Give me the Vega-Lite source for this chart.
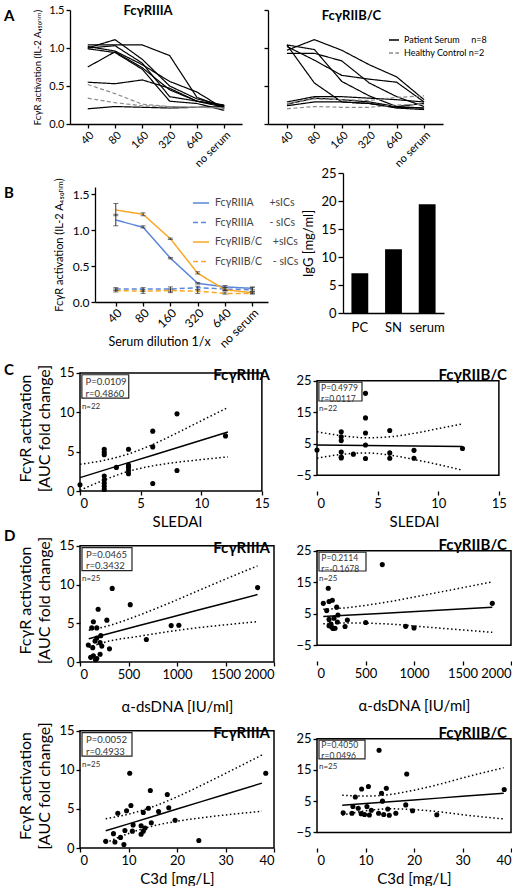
{
 "$schema": "https://vega.github.io/schema/vega-lite/v6.json",
 "autosize": {"type": "pad"},
 "padding": {"left": 4, "top": 4, "right": 0, "bottom": 0},
 "background": "white",
 "bounds": "flush",
 "columns": 3,
 "spacing": {"row": 20, "column": 0},
 "align": "each",
 "center": false,
 "resolve": {"scale": {"color": "independent", "strokeDash": "independent"}, "legend": {"color": "independent", "strokeDash": "independent"}},
 "config": {
  "font": "Lato, DejaVu Sans, sans-serif",
  "view": {"stroke": null},
  "axis": {"grid": false, "domainColor": "black", "tickColor": "black", "labelColor": "black", "titleColor": "black", "domainWidth": 1.3, "tickWidth": 1.3, "titleFontWeight": "normal"},
  "title": {"color": "black"},
  "legend": {"labelColor": "black"}
 },
 "datasets": {
  "aL": [
   {"id": "p1", "g": "Patient Serum\u00a0\u00a0\u00a0\u00a0\u00a0n=8", "40": 1.04, "80": 1.04, "160": 1.04, "320": 0.90, "640": 0.35, "no serum": 0.22},
   {"id": "p2", "g": "Patient Serum\u00a0\u00a0\u00a0\u00a0\u00a0n=8", "40": 1.00, "80": 1.11, "160": 0.85, "320": 0.50, "640": 0.33, "no serum": 0.24},
   {"id": "p3", "g": "Patient Serum\u00a0\u00a0\u00a0\u00a0\u00a0n=8", "40": 1.02, "80": 0.96, "160": 0.78, "320": 0.56, "640": 0.42, "no serum": 0.20},
   {"id": "p4", "g": "Patient Serum\u00a0\u00a0\u00a0\u00a0\u00a0n=8", "40": 0.75, "80": 0.95, "160": 0.74, "320": 0.45, "640": 0.30, "no serum": 0.25},
   {"id": "p5", "g": "Patient Serum\u00a0\u00a0\u00a0\u00a0\u00a0n=8", "40": 1.00, "80": 1.03, "160": 0.80, "320": 0.36, "640": 0.30, "no serum": 0.22},
   {"id": "p6", "g": "Patient Serum\u00a0\u00a0\u00a0\u00a0\u00a0n=8", "40": 0.99, "80": 0.94, "160": 0.72, "320": 0.30, "640": 0.27, "no serum": 0.18},
   {"id": "p7", "g": "Patient Serum\u00a0\u00a0\u00a0\u00a0\u00a0n=8", "40": 0.55, "80": 0.53, "160": 0.58, "320": 0.47, "640": 0.30, "no serum": 0.24},
   {"id": "p8", "g": "Patient Serum\u00a0\u00a0\u00a0\u00a0\u00a0n=8", "40": 0.20, "80": 0.23, "160": 0.22, "320": 0.21, "640": 0.22, "no serum": 0.23},
   {"id": "c1", "g": "Healthy Control n=2", "40": 0.52, "80": 0.40, "160": 0.26, "320": 0.23, "640": 0.22, "no serum": 0.21},
   {"id": "c2", "g": "Healthy Control n=2", "40": 0.34, "80": 0.28, "160": 0.24, "320": 0.23, "640": 0.22, "no serum": 0.21}
  ],
  "aR": [
   {"id": "p1", "g": "Patient Serum\u00a0\u00a0\u00a0\u00a0\u00a0n=8", "40": 1.04, "80": 0.98, "160": 0.56, "320": 0.37, "640": 0.23, "no serum": 0.21},
   {"id": "p2", "g": "Patient Serum\u00a0\u00a0\u00a0\u00a0\u00a0n=8", "40": 0.97, "80": 1.11, "160": 0.97, "320": 0.78, "640": 0.62, "no serum": 0.32},
   {"id": "p3", "g": "Patient Serum\u00a0\u00a0\u00a0\u00a0\u00a0n=8", "40": 1.02, "80": 0.84, "160": 0.64, "320": 0.59, "640": 0.55, "no serum": 0.29},
   {"id": "p4", "g": "Patient Serum\u00a0\u00a0\u00a0\u00a0\u00a0n=8", "40": 0.93, "80": 0.93, "160": 0.83, "320": 0.54, "640": 0.36, "no serum": 0.23},
   {"id": "p5", "g": "Patient Serum\u00a0\u00a0\u00a0\u00a0\u00a0n=8", "40": 1.04, "80": 0.54, "160": 0.29, "320": 0.27, "640": 0.22, "no serum": 0.21},
   {"id": "p6", "g": "Patient Serum\u00a0\u00a0\u00a0\u00a0\u00a0n=8", "40": 0.29, "80": 0.36, "160": 0.36, "320": 0.34, "640": 0.32, "no serum": 0.29},
   {"id": "p7", "g": "Patient Serum\u00a0\u00a0\u00a0\u00a0\u00a0n=8", "40": 0.26, "80": 0.34, "160": 0.32, "320": 0.29, "640": 0.23, "no serum": 0.27},
   {"id": "p8", "g": "Patient Serum\u00a0\u00a0\u00a0\u00a0\u00a0n=8", "40": 0.24, "80": 0.29, "160": 0.29, "320": 0.27, "640": 0.21, "no serum": 0.19},
   {"id": "c1", "g": "Healthy Control n=2", "40": 0.27, "80": 0.33, "160": 0.32, "320": 0.31, "640": 0.35, "no serum": 0.37},
   {"id": "c2", "g": "Healthy Control n=2", "40": 0.20, "80": 0.23, "160": 0.22, "320": 0.22, "640": 0.25, "no serum": 0.26}
  ],
  "b": [
   {"s": "FcγRIIIA\u00a0\u00a0\u00a0\u00a0\u00a0\u00a0+sICs", "d": "40", "v": 1.14, "lo": 1.06, "hi": 1.22},
   {"s": "FcγRIIIA\u00a0\u00a0\u00a0\u00a0\u00a0\u00a0+sICs", "d": "80", "v": 1.04, "lo": 1.03, "hi": 1.06},
   {"s": "FcγRIIIA\u00a0\u00a0\u00a0\u00a0\u00a0\u00a0+sICs", "d": "160", "v": 0.61, "lo": 0.60, "hi": 0.62},
   {"s": "FcγRIIIA\u00a0\u00a0\u00a0\u00a0\u00a0\u00a0+sICs", "d": "320", "v": 0.26, "lo": 0.25, "hi": 0.27},
   {"s": "FcγRIIIA\u00a0\u00a0\u00a0\u00a0\u00a0\u00a0+sICs", "d": "640", "v": 0.21, "lo": 0.20, "hi": 0.23},
   {"s": "FcγRIIIA\u00a0\u00a0\u00a0\u00a0\u00a0\u00a0+sICs", "d": "no serum", "v": 0.19, "lo": 0.17, "hi": 0.21},
   {"s": "FcγRIIIA\u00a0\u00a0\u00a0\u00a0\u00a0\u00a0-\u00a0sICs", "d": "40", "v": 0.18, "lo": 0.16, "hi": 0.20},
   {"s": "FcγRIIIA\u00a0\u00a0\u00a0\u00a0\u00a0\u00a0-\u00a0sICs", "d": "80", "v": 0.18, "lo": 0.15, "hi": 0.20},
   {"s": "FcγRIIIA\u00a0\u00a0\u00a0\u00a0\u00a0\u00a0-\u00a0sICs", "d": "160", "v": 0.18, "lo": 0.15, "hi": 0.21},
   {"s": "FcγRIIIA\u00a0\u00a0\u00a0\u00a0\u00a0\u00a0-\u00a0sICs", "d": "320", "v": 0.20, "lo": 0.17, "hi": 0.22},
   {"s": "FcγRIIIA\u00a0\u00a0\u00a0\u00a0\u00a0\u00a0-\u00a0sICs", "d": "640", "v": 0.18, "lo": 0.16, "hi": 0.20},
   {"s": "FcγRIIIA\u00a0\u00a0\u00a0\u00a0\u00a0\u00a0-\u00a0sICs", "d": "no serum", "v": 0.17, "lo": 0.15, "hi": 0.20},
   {"s": "FcγRIIB/C\u00a0\u00a0\u00a0\u00a0+sICs", "d": "40", "v": 1.28, "lo": 1.20, "hi": 1.37},
   {"s": "FcγRIIB/C\u00a0\u00a0\u00a0\u00a0+sICs", "d": "80", "v": 1.22, "lo": 1.20, "hi": 1.24},
   {"s": "FcγRIIB/C\u00a0\u00a0\u00a0\u00a0+sICs", "d": "160", "v": 0.88, "lo": 0.87, "hi": 0.89},
   {"s": "FcγRIIB/C\u00a0\u00a0\u00a0\u00a0+sICs", "d": "320", "v": 0.40, "lo": 0.39, "hi": 0.42},
   {"s": "FcγRIIB/C\u00a0\u00a0\u00a0\u00a0+sICs", "d": "640", "v": 0.17, "lo": 0.16, "hi": 0.18},
   {"s": "FcγRIIB/C\u00a0\u00a0\u00a0\u00a0+sICs", "d": "no serum", "v": 0.13, "lo": 0.12, "hi": 0.14},
   {"s": "FcγRIIB/C\u00a0\u00a0\u00a0\u00a0-\u00a0sICs", "d": "40", "v": 0.16, "lo": 0.14, "hi": 0.18},
   {"s": "FcγRIIB/C\u00a0\u00a0\u00a0\u00a0-\u00a0sICs", "d": "80", "v": 0.15, "lo": 0.12, "hi": 0.17},
   {"s": "FcγRIIB/C\u00a0\u00a0\u00a0\u00a0-\u00a0sICs", "d": "160", "v": 0.16, "lo": 0.13, "hi": 0.18},
   {"s": "FcγRIIB/C\u00a0\u00a0\u00a0\u00a0-\u00a0sICs", "d": "320", "v": 0.15, "lo": 0.12, "hi": 0.17},
   {"s": "FcγRIIB/C\u00a0\u00a0\u00a0\u00a0-\u00a0sICs", "d": "640", "v": 0.12, "lo": 0.11, "hi": 0.14},
   {"s": "FcγRIIB/C\u00a0\u00a0\u00a0\u00a0-\u00a0sICs", "d": "no serum", "v": 0.12, "lo": 0.11, "hi": 0.14}
  ],
  "igg": [{"s": "PC", "v": 7.1}, {"s": "SN", "v": 11.4}, {"s": "serum", "v": 19.4}],
  "cLp": [{"x":0,"v":0.8},{"x":2,"v":5.3},{"x":2,"v":4.9},{"x":2,"v":4.6},{"x":2,"v":1.9},{"x":2,"v":1.4},{"x":2,"v":1.0},{"x":2,"v":0.6},{"x":2,"v":0.2},{"x":3,"v":3.0},{"x":4,"v":5.3},{"x":4,"v":3.3},{"x":4,"v":3.0},{"x":4,"v":2.6},{"x":4,"v":2.2},{"x":6,"v":7.6},{"x":6,"v":5.6},{"x":6,"v":0.95},{"x":8,"v":9.8},{"x":8,"v":2.6},{"x":12,"v":7.0}],
  "cLf": [{"x":0,"fit":1.7,"lo":0.1,"hi":3.4},{"x":2,"fit":2.65,"lo":1.4,"hi":3.9},{"x":4,"fit":3.6,"lo":2.5,"hi":4.71},{"x":6,"fit":4.55,"lo":3.19,"hi":5.91},{"x":8,"fit":5.5,"lo":3.64,"hi":7.37},{"x":10,"fit":6.45,"lo":3.99,"hi":8.92},{"x":12.2,"fit":7.5,"lo":4.33,"hi":10.6}],
  "cRp": [{"x":0,"v":3.0},{"x":2,"v":8.8},{"x":2,"v":7.2},{"x":2,"v":6.0},{"x":2,"v":2.4},{"x":2,"v":0.8},{"x":2,"v":0.5},{"x":3,"v":1.7},{"x":4,"v":21.0},{"x":4,"v":13.2},{"x":4,"v":8.4},{"x":4,"v":4.6},{"x":4,"v":0.3},{"x":6,"v":9.2},{"x":6,"v":2.1},{"x":6,"v":0.4},{"x":8,"v":2.9},{"x":8,"v":0.4},{"x":12,"v":3.5}],
  "cRf": [{"x":0,"fit":4.6,"lo":0.4,"hi":8.8},{"x":2,"fit":4.52,"lo":1.6,"hi":7.6},{"x":4,"fit":4.43,"lo":2.1,"hi":6.9},{"x":6,"fit":4.35,"lo":1.4,"hi":7.2},{"x":8,"fit":4.27,"lo":0.0,"hi":8.3},{"x":10,"fit":4.18,"lo":-1.6,"hi":9.8},{"x":12,"fit":4.1,"lo":-3.4,"hi":11.3}],
  "d1Lp": [{"x":138,"v":5.2},{"x":121,"v":4.4},{"x":173,"v":4.4},{"x":187,"v":6.8},{"x":277,"v":5.4},{"x":332,"v":9.5},{"x":518,"v":7.4},{"x":214,"v":3.4},{"x":173,"v":3.1},{"x":155,"v":2.7},{"x":207,"v":2.5},{"x":86,"v":2.2},{"x":131,"v":1.85},{"x":225,"v":2.05},{"x":304,"v":1.7},{"x":138,"v":0.8},{"x":207,"v":1.0},{"x":173,"v":0.45},{"x":684,"v":2.9},{"x":940,"v":4.7},{"x":1019,"v":4.75},{"x":1831,"v":9.6},{"x":160,"v":0.3},{"x":110,"v":0.6}],
  "d1Lf": [{"x":90,"fit":3.0,"lo":1.9,"hi":4.1},{"x":300,"fit":3.69,"lo":2.7,"hi":4.7},{"x":600,"fit":4.67,"lo":3.3,"hi":6.0},{"x":900,"fit":5.65,"lo":3.9,"hi":7.5},{"x":1200,"fit":6.64,"lo":4.4,"hi":9.1},{"x":1500,"fit":7.62,"lo":4.8,"hi":10.7},{"x":1830,"fit":8.7,"lo":5.2,"hi":12.4}],
  "d1Rp": [{"x":65,"v":8.3},{"x":116,"v":13.1},{"x":124,"v":8.9},{"x":158,"v":9.3},{"x":100,"v":6.0},{"x":203,"v":7.1},{"x":216,"v":4.6},{"x":124,"v":3.2},{"x":175,"v":3.6},{"x":313,"v":3.0},{"x":210,"v":2.4},{"x":124,"v":1.2},{"x":151,"v":0.8},{"x":186,"v":0.4},{"x":289,"v":0.95},{"x":502,"v":2.2},{"x":673,"v":20.6},{"x":914,"v":1.0},{"x":1000,"v":0.5},{"x":1807,"v":8.3},{"x":144,"v":1.7},{"x":165,"v":0.3}],
  "d1Rf": [{"x":65,"fit":4.1,"lo":1.8,"hi":6.4},{"x":300,"fit":4.5,"lo":2.1,"hi":6.9},{"x":700,"fit":5.19,"lo":1.8,"hi":8.6},{"x":1200,"fit":6.05,"lo":0.6,"hi":11.5},{"x":1807,"fit":7.1,"lo":-0.9,"hi":15.1}],
  "d2Lp": [{"x":5.3,"v":0.85},{"x":7.2,"v":0.76},{"x":6.9,"v":1.84},{"x":8.35,"v":1.36},{"x":9.05,"v":0.44},{"x":7.8,"v":4.44},{"x":9.6,"v":4.76},{"x":10.5,"v":5.44},{"x":10.25,"v":9.56},{"x":9.26,"v":2.24},{"x":10.8,"v":2.16},{"x":10.95,"v":2.96},{"x":12.6,"v":2.84},{"x":12.6,"v":1.76},{"x":13.05,"v":2.16},{"x":13.4,"v":2.56},{"x":13.05,"v":4.56},{"x":14.1,"v":5.08},{"x":14.5,"v":7.36},{"x":14.7,"v":3.24},{"x":16.2,"v":4.68},{"x":18.0,"v":6.84},{"x":18.3,"v":5.16},{"x":19.6,"v":3.56},{"x":24.5,"v":0.96},{"x":38.3,"v":9.56}],
  "d2Lf": [{"x":5.3,"fit":2.2,"lo":0.66,"hi":3.74},{"x":10,"fit":3.09,"lo":1.86,"hi":4.33},{"x":15,"fit":4.04,"lo":2.81,"hi":5.28},{"x":20,"fit":4.99,"lo":3.42,"hi":6.55},{"x":25,"fit":5.94,"lo":3.87,"hi":8.01},{"x":30,"fit":6.89,"lo":4.23,"hi":9.55},{"x":37.5,"fit":8.3,"lo":4.7,"hi":11.9}],
  "d2Rp": [{"x":5.4,"v":1.3},{"x":7.2,"v":1.1},{"x":7.4,"v":3.3},{"x":7.9,"v":6.3},{"x":8.5,"v":2.7},{"x":9.2,"v":8.9},{"x":9.1,"v":1.0},{"x":9.8,"v":0.7},{"x":10.3,"v":3.3},{"x":10.6,"v":9.7},{"x":10.8,"v":0.56},{"x":11.2,"v":2.1},{"x":12.7,"v":1.1},{"x":12.8,"v":21.3},{"x":13.3,"v":7.5},{"x":13.5,"v":5.0},{"x":13.75,"v":0.7},{"x":14.3,"v":9.1},{"x":14.6,"v":2.5},{"x":14.9,"v":0.5},{"x":16.25,"v":1.1},{"x":18.3,"v":3.8},{"x":18.5,"v":13.7},{"x":19.7,"v":1.9},{"x":24.7,"v":0.64},{"x":38.6,"v":8.7}],
  "d2Rf": [{"x":5.2,"fit":3.7,"lo":0.5,"hi":6.9},{"x":10,"fit":4.25,"lo":1.9,"hi":6.6},{"x":15,"fit":4.82,"lo":2.54,"hi":7.1},{"x":20,"fit":5.39,"lo":2.29,"hi":8.5},{"x":25,"fit":5.96,"lo":1.62,"hi":10.3},{"x":30,"fit":6.53,"lo":0.66,"hi":12.4},{"x":38.5,"fit":7.5,"lo":-0.7,"hi":15.7}]
 },
 "concat": [
  {"width": 66, "height": 1, "data": {"values": []}, "mark": "point",
   "title": {"text": "A", "anchor": "start", "frame": "group", "offset": -26, "fontSize": 15, "fontWeight": "bold", "baseline": "alphabetic"}},
  {
   "width": 198, "height": 114,
   "title": {"text": "FcγRIIIA", "anchor": "middle", "frame": "group", "offset": -24, "dx": -21, "fontSize": 13, "fontWeight": "bold", "baseline": "alphabetic"},
   "data": {"name": "aL"},
   "transform": [{"fold": ["40", "80", "160", "320", "640", "no serum"], "as": ["d", "v"]}],
   "mark": {"type": "line", "strokeWidth": 1.2},
   "encoding": {
    "x": {"field": "d", "type": "ordinal", "sort": ["40", "80", "160", "320", "640", "no serum"], "scale": {"type": "point", "padding": 0.65, "range": [0, 172]}, "axis": {"title": null, "labelAngle": -45, "labelFontSize": 11, "tickSize": 4, "labelPadding": 1}},
    "y": {"field": "v", "type": "quantitative", "scale": {"domain": [0, 1.5]}, "axis": {"values": [0, 0.5, 1, 1.5], "format": ".1f", "title": "FcγR activation (IL-2 A₄₅₀ₙₘ)", "titleFontSize": 9.5, "labelFontSize": 11, "tickSize": 4, "titlePadding": 6}},
    "detail": {"field": "id", "type": "nominal"},
    "color": {"field": "g", "type": "nominal", "scale": {"domain": ["Patient Serum\u00a0\u00a0\u00a0\u00a0\u00a0n=8", "Healthy Control n=2"], "range": ["black", "#8a8a8a"]}, "legend": null},
    "strokeDash": {"field": "g", "type": "nominal", "scale": {"domain": ["Patient Serum\u00a0\u00a0\u00a0\u00a0\u00a0n=8", "Healthy Control n=2"], "range": [[1, 0], [4, 2.5]]}, "legend": null}
   }
  },
  {
   "width": 175, "height": 114,
   "title": {"text": "FcγRIIB/C", "anchor": "middle", "frame": "group", "offset": -24, "dx": -4, "fontSize": 13, "fontWeight": "bold", "baseline": "alphabetic"},
   "data": {"name": "aR"},
   "transform": [{"fold": ["40", "80", "160", "320", "640", "no serum"], "as": ["d", "v"]}],
   "mark": {"type": "line", "strokeWidth": 1.2},
   "encoding": {
    "x": {"field": "d", "type": "ordinal", "sort": ["40", "80", "160", "320", "640", "no serum"], "scale": {"type": "point", "padding": 0.69}, "axis": {"title": null, "labelAngle": -45, "labelFontSize": 11, "tickSize": 4, "labelPadding": 1}},
    "y": {"field": "v", "type": "quantitative", "scale": {"domain": [0, 1.5]}, "axis": {"values": [0, 0.5, 1, 1.5], "labels": false, "title": null, "tickSize": 4}},
    "detail": {"field": "id", "type": "nominal"},
    "color": {"field": "g", "type": "nominal", "scale": {"domain": ["Patient Serum\u00a0\u00a0\u00a0\u00a0\u00a0n=8", "Healthy Control n=2"], "range": ["black", "#8a8a8a"]}, "legend": {"orient": "none", "legendX": 120, "legendY": 24, "title": null, "symbolType": "stroke", "symbolSize": 100, "symbolStrokeWidth": 1.5, "labelFontSize": 9, "rowPadding": 2, "labelOffset": 4}},
    "strokeDash": {"field": "g", "type": "nominal", "scale": {"domain": ["Patient Serum\u00a0\u00a0\u00a0\u00a0\u00a0n=8", "Healthy Control n=2"], "range": [[1, 0], [4, 2.5]]}, "legend": {"orient": "none", "legendX": 120, "legendY": 24, "title": null, "symbolType": "stroke", "symbolSize": 100, "symbolStrokeWidth": 1.5, "labelFontSize": 9, "rowPadding": 2, "labelOffset": 4}}
   }
  },

  {"width": 66, "height": 1, "data": {"values": []}, "mark": "point",
   "title": {"text": "B", "anchor": "start", "frame": "group", "offset": -69, "fontSize": 15, "fontWeight": "bold", "baseline": "alphabetic"}},
  {
   "width": 198, "height": 158,
   "layer": [
    {
     "data": {"name": "b"},
     "mark": {"type": "line", "strokeWidth": 1.5},
     "encoding": {
      "x": {"field": "d", "type": "ordinal", "sort": ["40", "80", "160", "320", "640", "no serum"], "scale": {"type": "point", "padding": 0.667, "align": 0.57, "range": [25, 198]}, "axis": {"title": "Serum dilution 1/x", "titleFontSize": 12.5, "titleX": 89, "titleY": 43, "titleBaseline": "alphabetic", "labelAngle": -45, "labelFontSize": 12, "tickSize": 4, "labelPadding": 1}},
      "y": {"field": "v", "type": "quantitative", "scale": {"domain": [0, 1.5], "range": [158, 43]}, "axis": {"values": [0, 0.5, 1, 1.5], "format": ".1f", "offset": -25, "title": "FcγR activation (IL-2 A₄₅₀ₙₘ)", "titleFontSize": 11, "labelFontSize": 12, "tickSize": 4, "titlePadding": 8}},
      "color": {"field": "s", "type": "nominal", "scale": {"domain": ["FcγRIIIA\u00a0\u00a0\u00a0\u00a0\u00a0\u00a0+sICs", "FcγRIIIA\u00a0\u00a0\u00a0\u00a0\u00a0\u00a0-\u00a0sICs", "FcγRIIB/C\u00a0\u00a0\u00a0\u00a0+sICs", "FcγRIIB/C\u00a0\u00a0\u00a0\u00a0-\u00a0sICs"], "range": ["#5b86d9", "#5b86d9", "#f9a825", "#f9a825"]}, "legend": {"orient": "none", "legendX": 122, "legendY": 50, "title": null, "symbolType": "stroke", "symbolSize": 256, "symbolStrokeWidth": 1.5, "labelFontSize": 10.5, "labelColor": "#444", "rowPadding": 4.5, "labelOffset": 5}},
      "strokeDash": {"field": "s", "type": "nominal", "scale": {"domain": ["FcγRIIIA\u00a0\u00a0\u00a0\u00a0\u00a0\u00a0+sICs", "FcγRIIIA\u00a0\u00a0\u00a0\u00a0\u00a0\u00a0-\u00a0sICs", "FcγRIIB/C\u00a0\u00a0\u00a0\u00a0+sICs", "FcγRIIB/C\u00a0\u00a0\u00a0\u00a0-\u00a0sICs"], "range": [[1, 0], [5, 3], [1, 0], [5, 3]]}, "legend": {"orient": "none", "legendX": 122, "legendY": 50, "title": null, "symbolType": "stroke", "symbolSize": 256, "symbolStrokeWidth": 1.5, "labelFontSize": 10.5, "labelColor": "#444", "rowPadding": 4.5, "labelOffset": 5}}
     }
    },
    {
     "data": {"name": "b"},
     "mark": {"type": "errorbar", "ticks": {"size": 5, "color": "#333"}, "color": "#333", "thickness": 1},
     "encoding": {
      "x": {"field": "d", "type": "ordinal", "sort": ["40", "80", "160", "320", "640", "no serum"], "title": "Serum dilution 1/x"},
      "y": {"field": "lo", "type": "quantitative", "title": "FcγR activation (IL-2 A₄₅₀ₙₘ)"},
      "y2": {"field": "hi"}
     }
    }
   ]
  },
  {
   "width": 176, "height": 169,
   "data": {"name": "igg"},
   "mark": {"type": "bar", "color": "black"},
   "encoding": {
    "x": {"field": "s", "type": "nominal", "sort": ["PC", "SN", "serum"], "scale": {"paddingInner": 0.5, "paddingOuter": 0.25, "range": [75, 176]}, "axis": {"title": null, "labelAngle": 0, "labelFontSize": 13, "ticks": false, "labelPadding": 8}},
    "y": {"field": "v", "type": "quantitative", "scale": {"domain": [0, 25], "range": [169, 29]}, "axis": {"values": [0, 5, 10, 15, 20, 25], "offset": -75, "title": "IgG [mg/ml]", "titleFontSize": 13, "labelFontSize": 13, "tickSize": 5, "titlePadding": 5}}
   }
  },

  {"width": 66, "height": 1, "data": {"values": []}, "mark": "point",
   "title": {"text": "C", "anchor": "start", "frame": "group", "offset": -57, "fontSize": 15, "fontWeight": "bold", "baseline": "alphabetic"}},
  {
   "width": 198, "height": 158,
   "title": {"text": "FcγRIIIA", "anchor": "end", "frame": "group", "offset": -62, "dx": 2, "fontSize": 15, "fontWeight": "bold", "baseline": "alphabetic"},
   "layer": [
    {"data": {"name": "cLp"}, "mark": {"type": "circle", "size": 26, "color": "black", "opacity": 1},
     "encoding": {
      "x": {"field": "x", "type": "quantitative", "scale": {"domain": [0, 15], "range": [10, 204]}, "axis": {"title": "SLEDAI", "values": [0, 5, 10, 15], "domain": false, "tickSize": 4, "labelFontSize": 13, "titleFontSize": 15, "titlePadding": 4, "labelPadding": 2}},
      "y": {"field": "v", "type": "quantitative", "scale": {"domain": [0, 15], "range": [158, 32]}, "axis": {"title": ["FcγR activation", "[AUC fold change]"], "offset": -10, "values": [0, 5, 10, 15], "domain": false, "tickSize": 4, "labelFontSize": 13, "titleFontSize": 16, "titleLineHeight": 19, "titlePadding": 6}}}},
    {"data": {"name": "cLf"}, "mark": {"type": "line", "color": "black", "strokeWidth": 1.5}, "encoding": {"x": {"field": "x", "type": "quantitative"}, "y": {"field": "fit", "type": "quantitative"}}},
    {"data": {"name": "cLf"}, "mark": {"type": "line", "color": "black", "strokeWidth": 1.5, "strokeDash": [1.5, 2.5], "interpolate": "monotone"}, "encoding": {"x": {"field": "x", "type": "quantitative"}, "y": {"field": "lo", "type": "quantitative"}}},
    {"data": {"name": "cLf"}, "mark": {"type": "line", "color": "black", "strokeWidth": 1.5, "strokeDash": [1.5, 2.5], "interpolate": "monotone"}, "encoding": {"x": {"field": "x", "type": "quantitative"}, "y": {"field": "hi", "type": "quantitative"}}},
    {"data": {"values": [{}]}, "mark": {"type": "rect", "fill": "white", "stroke": "#222", "strokeWidth": 1.2}, "encoding": {"x": {"datum": 0.155}, "x2": {"datum": 4.02}, "y": {"datum": 14.76}, "y2": {"datum": 11.79}}},
    {"data": {"values": [{}]}, "mark": {"type": "text", "align": "left", "baseline": "alphabetic", "fontSize": 9.5, "lineHeight": 11.5, "color": "#333", "text": ["P=0.0109", "r=0.4860"]}, "encoding": {"x": {"datum": 0.46}, "y": {"datum": 13.45}}},
    {"data": {"values": [{}]}, "mark": {"type": "text", "align": "left", "baseline": "alphabetic", "fontSize": 8, "color": "#333", "text": "n=22"}, "encoding": {"x": {"datum": 0.155}, "y": {"datum": 10.4}}},
    {"data": {"values": [{}]}, "mark": {"type": "rect", "fill": "transparent", "stroke": "black", "strokeWidth": 1.5}, "encoding": {"x": {"datum": 0}, "x2": {"datum": 15}, "y": {"datum": 0}, "y2": {"datum": 15}}}
   ]
  },
  {
   "width": 243, "height": 158,
   "title": {"text": "FcγRIIB/C", "anchor": "end", "frame": "group", "offset": -62, "dx": -4, "fontSize": 15, "fontWeight": "bold", "baseline": "alphabetic"},
   "layer": [
    {"data": {"name": "cRp"}, "mark": {"type": "circle", "size": 26, "color": "black", "opacity": 1},
     "encoding": {
      "x": {"field": "x", "type": "quantitative", "scale": {"domain": [0, 15], "range": [49, 243]}, "axis": {"title": "SLEDAI", "values": [0, 5, 10, 15], "domain": false, "tickSize": 4, "labelFontSize": 13, "titleFontSize": 15, "titlePadding": 4, "labelPadding": 2}},
      "y": {"field": "v", "type": "quantitative", "scale": {"domain": [-5, 25], "range": [158, 32]}, "axis": {"title": null, "offset": -49, "values": [-5, 0, 5, 10, 15, 20, 25], "domain": false, "tickSize": 4, "labelFontSize": 13}}}},
    {"data": {"name": "cRf"}, "mark": {"type": "line", "color": "black", "strokeWidth": 1.5}, "encoding": {"x": {"field": "x", "type": "quantitative"}, "y": {"field": "fit", "type": "quantitative"}}},
    {"data": {"name": "cRf"}, "mark": {"type": "line", "color": "black", "strokeWidth": 1.5, "strokeDash": [1.5, 2.5], "interpolate": "monotone"}, "encoding": {"x": {"field": "x", "type": "quantitative"}, "y": {"field": "lo", "type": "quantitative"}}},
    {"data": {"name": "cRf"}, "mark": {"type": "line", "color": "black", "strokeWidth": 1.5, "strokeDash": [1.5, 2.5], "interpolate": "monotone"}, "encoding": {"x": {"field": "x", "type": "quantitative"}, "y": {"field": "hi", "type": "quantitative"}}},
    {"data": {"values": [{}]}, "mark": {"type": "rect", "fill": "white", "stroke": "#222", "strokeWidth": 1.2}, "encoding": {"x": {"datum": 0.155}, "x2": {"datum": 3.71}, "y": {"datum": 24.52}, "y2": {"datum": 18.57}}},
    {"data": {"values": [{}]}, "mark": {"type": "text", "align": "left", "baseline": "alphabetic", "fontSize": 8.5, "lineHeight": 11, "color": "#333", "text": ["P=0.4979", "r=0.0117"]}, "encoding": {"x": {"datum": 0.34}, "y": {"datum": 21.9}}},
    {"data": {"values": [{}]}, "mark": {"type": "text", "align": "left", "baseline": "alphabetic", "fontSize": 8, "color": "#333", "text": "n=22"}, "encoding": {"x": {"datum": 0.155}, "y": {"datum": 15.4}}},
    {"data": {"values": [{}]}, "mark": {"type": "rect", "fill": "transparent", "stroke": "black", "strokeWidth": 1.5}, "encoding": {"x": {"datum": 0}, "x2": {"datum": 15}, "y": {"datum": -5}, "y2": {"datum": 25}}}
   ]
  },

  {"width": 66, "height": 1, "data": {"values": []}, "mark": "point",
   "title": {"text": "D", "anchor": "start", "frame": "group", "offset": -45, "fontSize": 15, "fontWeight": "bold", "baseline": "alphabetic"}},
  {
   "width": 198, "height": 151,
   "title": {"text": "FcγRIIIA", "anchor": "end", "frame": "group", "offset": -57, "dx": 2, "fontSize": 15, "fontWeight": "bold", "baseline": "alphabetic"},
   "layer": [
    {"data": {"name": "d1Lp"}, "mark": {"type": "circle", "size": 26, "color": "black", "opacity": 1},
     "encoding": {
      "x": {"field": "x", "type": "quantitative", "scale": {"domain": [0, 2000], "range": [10, 204]}, "axis": {"title": "α-dsDNA [IU/ml]", "values": [0, 500, 1000, 1500, 2000], "format": "d", "domain": false, "tickSize": 4, "labelFontSize": 13, "titleFontSize": 15, "titlePadding": 18, "labelPadding": 2}},
      "y": {"field": "v", "type": "quantitative", "scale": {"domain": [0, 15], "range": [151, 27]}, "axis": {"title": ["FcγR activation", "[AUC fold change]"], "offset": -10, "values": [0, 5, 10, 15], "domain": false, "tickSize": 4, "labelFontSize": 13, "titleFontSize": 16, "titleLineHeight": 19, "titlePadding": 6}}}},
    {"data": {"name": "d1Lf"}, "mark": {"type": "line", "color": "black", "strokeWidth": 1.5}, "encoding": {"x": {"field": "x", "type": "quantitative"}, "y": {"field": "fit", "type": "quantitative"}}},
    {"data": {"name": "d1Lf"}, "mark": {"type": "line", "color": "black", "strokeWidth": 1.5, "strokeDash": [1.5, 2.5], "interpolate": "monotone"}, "encoding": {"x": {"field": "x", "type": "quantitative"}, "y": {"field": "lo", "type": "quantitative"}}},
    {"data": {"name": "d1Lf"}, "mark": {"type": "line", "color": "black", "strokeWidth": 1.5, "strokeDash": [1.5, 2.5], "interpolate": "monotone"}, "encoding": {"x": {"field": "x", "type": "quantitative"}, "y": {"field": "hi", "type": "quantitative"}}},
    {"data": {"values": [{}]}, "mark": {"type": "rect", "fill": "white", "stroke": "#222", "strokeWidth": 1.2}, "encoding": {"x": {"datum": 20.6}, "x2": {"datum": 536}, "y": {"datum": 14.76}, "y2": {"datum": 11.79}}},
    {"data": {"values": [{}]}, "mark": {"type": "text", "align": "left", "baseline": "alphabetic", "fontSize": 9.5, "lineHeight": 11.5, "color": "#333", "text": ["P=0.0465", "r=0.3432"]}, "encoding": {"x": {"datum": 61.9}, "y": {"datum": 13.45}}},
    {"data": {"values": [{}]}, "mark": {"type": "text", "align": "left", "baseline": "alphabetic", "fontSize": 8, "color": "#333", "text": "n=25"}, "encoding": {"x": {"datum": 20.6}, "y": {"datum": 10.4}}},
    {"data": {"values": [{}]}, "mark": {"type": "rect", "fill": "transparent", "stroke": "black", "strokeWidth": 1.5}, "encoding": {"x": {"datum": 0}, "x2": {"datum": 2000}, "y": {"datum": 0}, "y2": {"datum": 15}}}
   ]
  },
  {
   "width": 243, "height": 150,
   "title": {"text": "FcγRIIB/C", "anchor": "end", "frame": "group", "offset": -54, "dx": -4, "fontSize": 15, "fontWeight": "bold", "baseline": "alphabetic"},
   "layer": [
    {"data": {"name": "d1Rp"}, "mark": {"type": "circle", "size": 26, "color": "black", "opacity": 1},
     "encoding": {
      "x": {"field": "x", "type": "quantitative", "scale": {"domain": [0, 2000], "range": [49, 243]}, "axis": {"title": "α-dsDNA [IU/ml]", "values": [0, 500, 1000, 1500, 2000], "format": "d", "domain": false, "tickSize": 4, "labelFontSize": 13, "titleFontSize": 15, "titlePadding": 18, "labelPadding": 2}},
      "y": {"field": "v", "type": "quantitative", "scale": {"domain": [-5, 25], "range": [150, 24]}, "axis": {"title": null, "offset": -49, "values": [-5, 0, 5, 10, 15, 20, 25], "domain": false, "tickSize": 4, "labelFontSize": 13}}}},
    {"data": {"name": "d1Rf"}, "mark": {"type": "line", "color": "black", "strokeWidth": 1.5}, "encoding": {"x": {"field": "x", "type": "quantitative"}, "y": {"field": "fit", "type": "quantitative"}}},
    {"data": {"name": "d1Rf"}, "mark": {"type": "line", "color": "black", "strokeWidth": 1.5, "strokeDash": [1.5, 2.5], "interpolate": "monotone"}, "encoding": {"x": {"field": "x", "type": "quantitative"}, "y": {"field": "lo", "type": "quantitative"}}},
    {"data": {"name": "d1Rf"}, "mark": {"type": "line", "color": "black", "strokeWidth": 1.5, "strokeDash": [1.5, 2.5], "interpolate": "monotone"}, "encoding": {"x": {"field": "x", "type": "quantitative"}, "y": {"field": "hi", "type": "quantitative"}}},
    {"data": {"values": [{}]}, "mark": {"type": "rect", "fill": "white", "stroke": "#222", "strokeWidth": 1.2}, "encoding": {"x": {"datum": 20.6}, "x2": {"datum": 505}, "y": {"datum": 24.52}, "y2": {"datum": 18.57}}},
    {"data": {"values": [{}]}, "mark": {"type": "text", "align": "left", "baseline": "alphabetic", "fontSize": 8.5, "lineHeight": 11, "color": "#333", "text": ["P=0.2114", "r=-0.1678"]}, "encoding": {"x": {"datum": 45}, "y": {"datum": 21.9}}},
    {"data": {"values": [{}]}, "mark": {"type": "text", "align": "left", "baseline": "alphabetic", "fontSize": 8, "color": "#333", "text": "n=25"}, "encoding": {"x": {"datum": 20.6}, "y": {"datum": 15.4}}},
    {"data": {"values": [{}]}, "mark": {"type": "rect", "fill": "transparent", "stroke": "black", "strokeWidth": 1.5}, "encoding": {"x": {"datum": 0}, "x2": {"datum": 2000}, "y": {"datum": -5}, "y2": {"datum": 25}}}
   ]
  },

  {"width": 66, "height": 1, "data": {"values": []}, "mark": "point"},
  {
   "width": 198, "height": 166,
   "title": {"text": "FcγRIIIA", "anchor": "end", "frame": "group", "offset": -71, "dx": 2, "fontSize": 15, "fontWeight": "bold", "baseline": "alphabetic"},
   "layer": [
    {"data": {"name": "d2Lp"}, "mark": {"type": "circle", "size": 26, "color": "black", "opacity": 1},
     "encoding": {
      "x": {"field": "x", "type": "quantitative", "scale": {"domain": [0, 40], "range": [10, 204]}, "axis": {"title": "C3d [mg/L]", "values": [0, 10, 20, 30, 40], "domain": false, "tickSize": 4, "labelFontSize": 13, "titleFontSize": 15, "titlePadding": 4, "labelPadding": 2}},
      "y": {"field": "v", "type": "quantitative", "scale": {"domain": [0, 15], "range": [166, 41]}, "axis": {"title": ["FcγR activation", "[AUC fold change]"], "offset": -10, "values": [0, 5, 10, 15], "domain": false, "tickSize": 4, "labelFontSize": 13, "titleFontSize": 16, "titleLineHeight": 19, "titlePadding": 6}}}},
    {"data": {"name": "d2Lf"}, "mark": {"type": "line", "color": "black", "strokeWidth": 1.5}, "encoding": {"x": {"field": "x", "type": "quantitative"}, "y": {"field": "fit", "type": "quantitative"}}},
    {"data": {"name": "d2Lf"}, "mark": {"type": "line", "color": "black", "strokeWidth": 1.5, "strokeDash": [1.5, 2.5], "interpolate": "monotone"}, "encoding": {"x": {"field": "x", "type": "quantitative"}, "y": {"field": "lo", "type": "quantitative"}}},
    {"data": {"name": "d2Lf"}, "mark": {"type": "line", "color": "black", "strokeWidth": 1.5, "strokeDash": [1.5, 2.5], "interpolate": "monotone"}, "encoding": {"x": {"field": "x", "type": "quantitative"}, "y": {"field": "hi", "type": "quantitative"}}},
    {"data": {"values": [{}]}, "mark": {"type": "rect", "fill": "white", "stroke": "#222", "strokeWidth": 1.2}, "encoding": {"x": {"datum": 0.412}, "x2": {"datum": 10.72}, "y": {"datum": 14.76}, "y2": {"datum": 11.76}}},
    {"data": {"values": [{}]}, "mark": {"type": "text", "align": "left", "baseline": "alphabetic", "fontSize": 9.5, "lineHeight": 11.5, "color": "#333", "text": ["P=0.0052", "r=0.4933"]}, "encoding": {"x": {"datum": 1.24}, "y": {"datum": 13.44}}},
    {"data": {"values": [{}]}, "mark": {"type": "text", "align": "left", "baseline": "alphabetic", "fontSize": 8, "color": "#333", "text": "n=25"}, "encoding": {"x": {"datum": 0.412}, "y": {"datum": 10.35}}},
    {"data": {"values": [{}]}, "mark": {"type": "rect", "fill": "transparent", "stroke": "black", "strokeWidth": 1.5}, "encoding": {"x": {"datum": 0}, "x2": {"datum": 40}, "y": {"datum": 0}, "y2": {"datum": 15}}}
   ]
  },
  {
   "width": 243, "height": 166,
   "title": {"text": "FcγRIIB/C", "anchor": "end", "frame": "group", "offset": -71, "dx": -4, "fontSize": 15, "fontWeight": "bold", "baseline": "alphabetic"},
   "layer": [
    {"data": {"name": "d2Rp"}, "mark": {"type": "circle", "size": 26, "color": "black", "opacity": 1},
     "encoding": {
      "x": {"field": "x", "type": "quantitative", "scale": {"domain": [0, 40], "range": [49, 243]}, "axis": {"title": "C3d [mg/L]", "values": [0, 10, 20, 30, 40], "domain": false, "tickSize": 4, "labelFontSize": 13, "titleFontSize": 15, "titlePadding": 4, "labelPadding": 2}},
      "y": {"field": "v", "type": "quantitative", "scale": {"domain": [-5, 25], "range": [166, 41]}, "axis": {"title": null, "offset": -49, "values": [-5, 0, 5, 10, 15, 20, 25], "domain": false, "tickSize": 4, "labelFontSize": 13}}}},
    {"data": {"name": "d2Rf"}, "mark": {"type": "line", "color": "black", "strokeWidth": 1.5}, "encoding": {"x": {"field": "x", "type": "quantitative"}, "y": {"field": "fit", "type": "quantitative"}}},
    {"data": {"name": "d2Rf"}, "mark": {"type": "line", "color": "black", "strokeWidth": 1.5, "strokeDash": [1.5, 2.5], "interpolate": "monotone"}, "encoding": {"x": {"field": "x", "type": "quantitative"}, "y": {"field": "lo", "type": "quantitative"}}},
    {"data": {"name": "d2Rf"}, "mark": {"type": "line", "color": "black", "strokeWidth": 1.5, "strokeDash": [1.5, 2.5], "interpolate": "monotone"}, "encoding": {"x": {"field": "x", "type": "quantitative"}, "y": {"field": "hi", "type": "quantitative"}}},
    {"data": {"values": [{}]}, "mark": {"type": "rect", "fill": "white", "stroke": "#222", "strokeWidth": 1.2}, "encoding": {"x": {"datum": 0.412}, "x2": {"datum": 9.9}, "y": {"datum": 24.52}, "y2": {"datum": 18.52}}},
    {"data": {"values": [{}]}, "mark": {"type": "text", "align": "left", "baseline": "alphabetic", "fontSize": 8.5, "lineHeight": 11, "color": "#333", "text": ["P=0.4050", "r=0.0496"]}, "encoding": {"x": {"datum": 0.9}, "y": {"datum": 21.88}}},
    {"data": {"values": [{}]}, "mark": {"type": "text", "align": "left", "baseline": "alphabetic", "fontSize": 8, "color": "#333", "text": "n=25"}, "encoding": {"x": {"datum": 0.412}, "y": {"datum": 15.3}}},
    {"data": {"values": [{}]}, "mark": {"type": "rect", "fill": "transparent", "stroke": "black", "strokeWidth": 1.5}, "encoding": {"x": {"datum": 0}, "x2": {"datum": 40}, "y": {"datum": -5}, "y2": {"datum": 25}}}
   ]
  }
 ]
}
